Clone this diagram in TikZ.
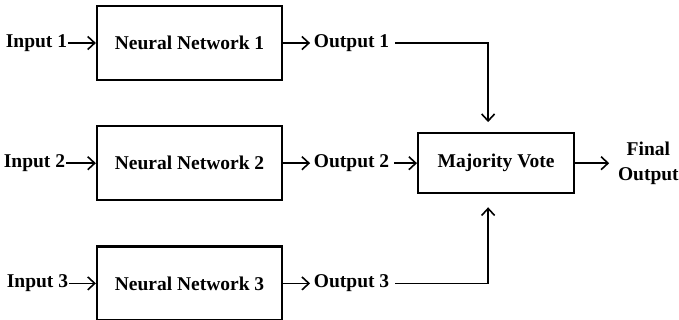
\documentclass[tikz,border=0pt]{standalone}
\usepackage{fontspec}
\setmainfont{Liberation Serif}
\usetikzlibrary{arrows.meta,positioning}

\begin{document}
\begin{tikzpicture}[x=1pt,y=-1pt,->,>={Straight Barb[length=7pt,width=13pt]},
line width=1.6pt,font=\fontsize{19.5}{25}\selectfont\bfseries]
\tikzstyle{net}=[draw,line width=2.2pt,minimum width=185pt,minimum height=74pt]
\tikzstyle{vote}=[draw,line width=2.2pt,minimum width=156pt,minimum height=60pt]
\tikzstyle{txt}=[inner sep=0pt]

\useasboundingbox (0,0) rectangle (679,320);

\node[net]		(nn1) at (189.5,43)     {Neural Network 1};
\node[net]		(nn2) [below=44pt of nn1] {Neural Network 2};
\node[net]		(nn3) [below=44pt of nn2] {Neural Network 3};

\node[txt]		(in1) [left=28pt of nn1] {Input 1};
\node[txt]		(in2) [left=30pt of nn2] {Input 2};
\node[txt]		(in3) [left=27pt of nn3] {Input 3};

\node[txt]		(out1) [right=30pt of nn1] {Output 1};
\node[txt]		(out2) [right=30pt of nn2] {Output 2};
\node[txt]		(out3) [right=30pt of nn3] {Output 3};

\node[vote]		(mv) [right=27pt of out2] {Majority Vote};
\node[txt,align=center] (fin) [right=42pt of mv] {Final\\Output};

\path (in1)	edge			(nn1)
(in2)	edge			(nn2)
(in3)	edge			(nn3)
(nn1)	edge[shorten >=3pt]	(out1)
(nn2)	edge[shorten >=3pt]	(out2)
(nn3)	edge[shorten >=3pt]	(out3)
(out2)	edge[shorten <=4pt]	(mv)
(mv)	edge[shorten >=8pt]	(fin);

\draw[shorten <=5pt,shorten >=10pt] (out1.east) -| ([xshift=-8pt]mv.north);
\draw[shorten <=5pt,shorten >=13pt] (out3.east) -| ([xshift=-8pt]mv.south);
\end{tikzpicture}
\end{document}
